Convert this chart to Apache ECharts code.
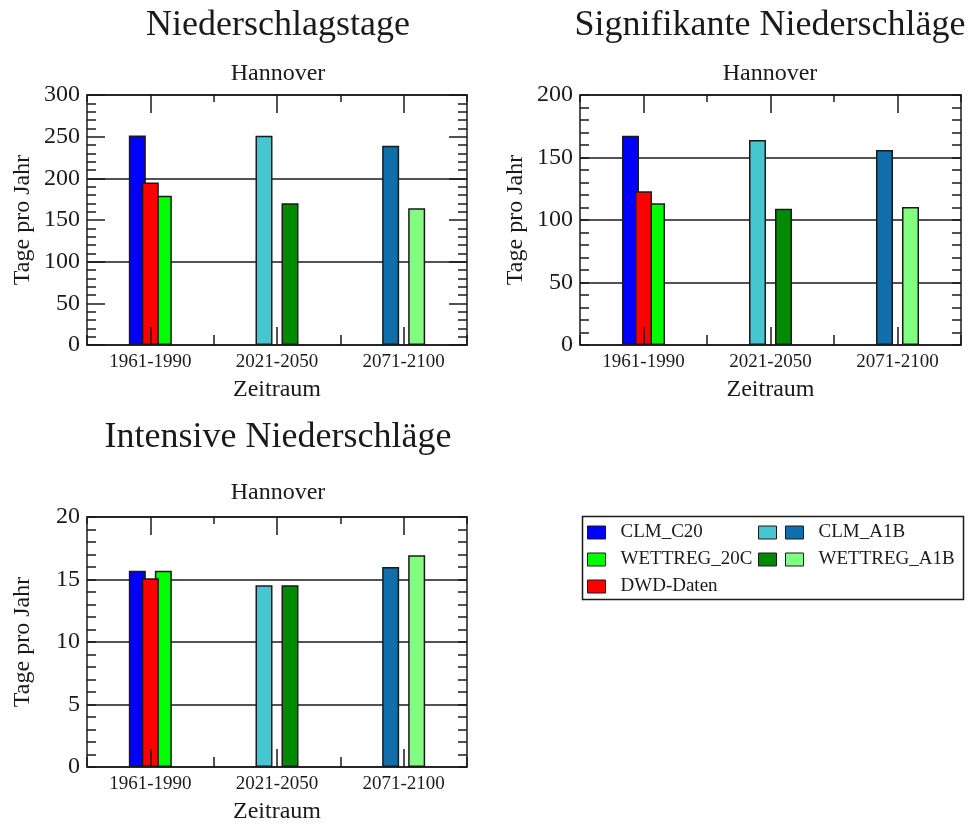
<!DOCTYPE html>
<html>
<head>
<meta charset="utf-8">
<title>Niederschlag Hannover</title>
<script src="https://cdn.jsdelivr.net/npm/echarts@6/dist/echarts.min.js"></script>
<style>
  html, body { margin: 0; padding: 0; background: #ffffff; }
  #chart { width: 972px; height: 825px; }
</style>
</head>
<body>
<div id="chart"></div>
<script>
// Zeiträume on the x axis
const periods = ['1961-1990', '2021-2050', '2071-2100'];

// Niederschlagstage, Tage pro Jahr
// CLM: CLM_C20 for 1961-1990, CLM_A1B for the two scenario periods
const tageCLM = [251.5, 251, 239];
// WETTREG: WETTREG_20C for 1961-1990, WETTREG_A1B for the scenario periods
const tageWETTREG = [179, 170, 164];
const tageDWD = [195];
const tageRange = [0, 300, 50];

// Signifikante Niederschläge, Tage pro Jahr
const sigCLM = [167.5, 164, 156];
const sigWETTREG = [113.5, 109, 110.5];
const sigDWD = [123];
const sigRange = [0, 200, 50];

// Intensive Niederschläge, Tage pro Jahr
const intCLM = [15.7, 14.55, 16.0];
const intWETTREG = [15.7, 14.55, 16.95];
const intDWD = [15.1];
const intRange = [0, 20, 5];

const FONT = '"Liberation Serif", "DejaVu Serif", serif';
const INK = '#1a1a1a';

const COLORS = {
  'CLM_C20': '#0000ff',
  'CLM_A1B 2021-2050': '#46c6d0',
  'CLM_A1B 2071-2100': '#106eaa',
  'DWD-Daten': '#ff0000',
  'WETTREG_20C': '#00ff00',
  'WETTREG_A1B 2021-2050': '#008a00',
  'WETTREG_A1B 2071-2100': '#80ff80'
};

const panels = [
  { title: 'Niederschlagstage', cx: 278, top: 8, subTop: 62,
    grid: { left: 87, top: 95, width: 380, height: 250 },
    range: tageRange, gridStep: 100, majorLen: 18,
    clm: tageCLM, wet: tageWETTREG, dwd: tageDWD },
  { title: 'Signifikante Niederschläge', cx: 770, top: 8, subTop: 62,
    grid: { left: 580, top: 95, width: 381, height: 250 },
    range: sigRange, gridStep: null, majorLen: 9,
    clm: sigCLM, wet: sigWETTREG, dwd: sigDWD },
  { title: 'Intensive Niederschläge', cx: 278, top: 420, subTop: 481,
    grid: { left: 87, top: 517, width: 380, height: 253 },
    range: intRange, gridStep: null, majorLen: 9,
    clm: intCLM, wet: intWETTREG, dwd: intDWD }
];

const line = { color: INK, width: 1.5 };
const titles = [];
const grids = [];
const xAxes = [];
const yAxes = [];
const series = [];

// one value per period, the rest left empty
function onlyAt(idx, v) {
  return periods.map((_, i) => (i === idx ? v : null));
}

function barSeries(name, stack, data, xi, yi, z) {
  return {
    type: 'bar', name, stack, data,
    xAxisIndex: xi, yAxisIndex: yi,
    barWidth: 17, barGap: '-23.5%',
    z: z,
    itemStyle: { color: COLORS[name], borderColor: INK, borderWidth: 1.5 },
    emphasis: { disabled: true }
  };
}

panels.forEach((p, gi) => {
  titles.push(
    { text: p.title, left: p.cx, top: p.top, textAlign: 'center', padding: 0,
      textStyle: { fontFamily: FONT, fontSize: 36, fontWeight: 'normal', color: INK } },
    { text: 'Hannover', left: p.cx, top: p.subTop, textAlign: 'center', padding: 0,
      textStyle: { fontFamily: FONT, fontSize: 24, fontWeight: 'normal', color: INK } }
  );
  grids.push(Object.assign({ containLabel: false }, p.grid));

  const xi = xAxes.length;
  const catAxis = (pos, len, centered, extra) => Object.assign({
    gridIndex: gi, type: 'category', data: periods, position: pos, z: 5,
    axisLine: { show: false, onZero: false, lineStyle: line },
    axisTick: { show: true, inside: true, alignWithLabel: centered, length: len, lineStyle: line },
    axisLabel: { show: false },
    splitLine: { show: false }
  }, extra || {});

  xAxes.push(
    catAxis('bottom', 18, true, {
      axisLine: { show: true, onZero: false, lineStyle: line },
      axisLabel: { show: true, fontFamily: FONT, fontSize: 19, color: INK, margin: 8 },
      name: 'Zeitraum', nameLocation: 'middle', nameGap: 33,
      nameTextStyle: { fontFamily: FONT, fontSize: 24, color: INK }
    }),
    catAxis('bottom', 10, false),
    catAxis('top', 18, true, { axisLine: { show: true, onZero: false, lineStyle: line } }),
    catAxis('top', 7, false)
  );

  const [ymin, ymax, ystep] = p.range;
  const yi = yAxes.length;
  const valAxis = (pos, extra) => Object.assign({
    gridIndex: gi, type: 'value', position: pos,
    min: ymin, max: ymax, interval: ystep,
    axisLine: { show: true, lineStyle: line },
    axisTick: { show: true, inside: true, length: p.majorLen, lineStyle: line },
    minorTick: { show: true, splitNumber: 5, length: 9, lineStyle: { color: INK, width: 1.5 } },
    axisLabel: { show: false },
    splitLine: { show: false }
  }, extra || {});

  yAxes.push(
    valAxis('left', {
      axisLabel: { show: true, fontFamily: FONT, fontSize: 24, color: INK, margin: 7 },
      splitLine: { show: p.gridStep === null, lineStyle: line },
      name: 'Tage pro Jahr', nameLocation: 'middle', nameRotate: 90, nameGap: 52,
      nameTextStyle: { fontFamily: FONT, fontSize: 24, color: INK }
    }),
    valAxis('right')
  );
  if (p.gridStep !== null) {
    yAxes.push({
      gridIndex: gi, type: 'value', position: 'left',
      min: ymin, max: ymax, interval: p.gridStep,
      axisLine: { show: false }, axisTick: { show: false }, axisLabel: { show: false },
      splitLine: { show: true, lineStyle: line }
    });
  }

  // left slot: CLM, middle slot: DWD, right slot: WETTREG (stacks kept per panel)
  const sL = 'clm' + gi, sM = 'dwd' + gi, sR = 'wet' + gi;
  series.push(
    barSeries('CLM_C20', sL, onlyAt(0, p.clm[0]), xi, yi, 2),
    barSeries('CLM_A1B 2021-2050', sL, onlyAt(1, p.clm[1]), xi, yi, 2),
    barSeries('CLM_A1B 2071-2100', sL, onlyAt(2, p.clm[2]), xi, yi, 2),
    barSeries('DWD-Daten', sM, onlyAt(0, p.dwd[0]), xi, yi, 3),
    barSeries('WETTREG_20C', sR, onlyAt(0, p.wet[0]), xi, yi, 2),
    barSeries('WETTREG_A1B 2021-2050', sR, onlyAt(1, p.wet[1]), xi, yi, 2),
    barSeries('WETTREG_A1B 2071-2100', sR, onlyAt(2, p.wet[2]), xi, yi, 2)
  );
});

const legendBase = {
  orient: 'vertical', padding: 0, itemWidth: 18, itemHeight: 13, itemGap: 8,
  icon: 'rect', selectedMode: false,
  itemStyle: { borderColor: INK, borderWidth: 1 },
  textStyle: { fontFamily: FONT, fontSize: 19, lineHeight: 14, color: INK, padding: [0, 0, 0, 10] }
};

const option = {
  backgroundColor: '#ffffff',
  animation: false,
  title: titles,
  grid: grids,
  xAxis: xAxes,
  yAxis: yAxes,
  legend: [
    Object.assign({}, legendBase, { left: 587, top: 523,
      data: ['CLM_C20', 'WETTREG_20C', 'DWD-Daten'] }),
    // first swatch of the two-colour entries: same row height, no label
    Object.assign({}, legendBase, { left: 758, top: 523,
      data: ['CLM_A1B 2021-2050', 'WETTREG_A1B 2021-2050'], formatter: () => ' ' }),
    Object.assign({}, legendBase, { left: 785, top: 523,
      data: ['CLM_A1B 2071-2100', 'WETTREG_A1B 2071-2100'],
      formatter: (n) => n.split(' ')[0] })
  ],
  graphic: [{
    type: 'rect', left: 580, top: 514, silent: true,
    shape: { width: 381, height: 83 },
    style: { fill: 'none', stroke: INK, lineWidth: 1.5 }
  }],
  series: series
};

const chart = echarts.init(document.getElementById('chart'), null, { renderer: 'canvas' });
chart.setOption(option);
</script>
</body>
</html>
